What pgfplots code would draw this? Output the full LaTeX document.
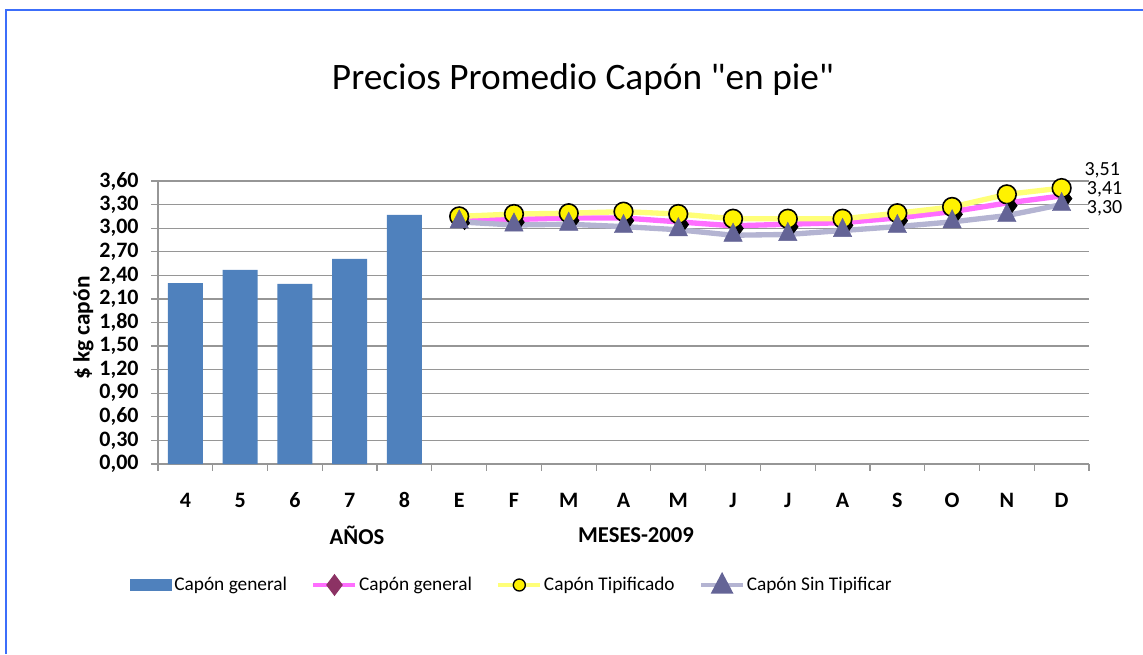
\documentclass[border=0pt]{standalone}
\usepackage{fontspec}
\setmainfont{Carlito}[Ligatures=TeXOff]
\usepackage{pgfplots}
\pgfplotsset{compat=1.18}
\definecolor{barblue}{RGB}{79,129,189}
\definecolor{gridgray}{RGB}{150,150,150}
\definecolor{lyellow}{RGB}{255,255,120}
\definecolor{lmag}{RGB}{255,110,255}
\definecolor{llav}{RGB}{180,180,210}
\definecolor{tri}{RGB}{100,100,150}
\definecolor{maroon}{RGB}{140,50,100}
\definecolor{frameblue}{RGB}{60,110,250}
\begin{document}
\begin{tikzpicture}
\begin{scope}[x=0.75pt,y=0.75pt]
\useasboundingbox (0,0) rectangle (1143,654);
\draw[frameblue, line width=1.5pt] (5.5,0) -- (5.5,644) -- (1143,644);
\node[font=\fontsize{28}{32}\selectfont] at (583,574) {Precios Promedio Capón "en pie"};
\node[font=\bfseries\fontsize{17}{20}\selectfont] at (357,119) {AÑOS};
\node[font=\bfseries\fontsize{17}{20}\selectfont] at (636,119) {MESES-2009};
\end{scope}
\begin{axis}[
  at={(118.5pt,142.5pt)}, anchor=south west, scale only axis,
  width=698.25pt, height=212.25pt,
  xmin=-0.5, xmax=16.5, ymin=0, ymax=3.6,
  clip=false,
  axis x line*=bottom, axis y line*=left,
  axis line style={gridgray, line width=1pt},
  ytick={0,0.3,0.6,0.9,1.2,1.5,1.8,2.1,2.4,2.7,3.0,3.3,3.6},
  ymajorgrids, grid style={gridgray, line width=0.9pt},
  xtick={0,1,...,16},
  xticklabels={4,5,6,7,8,E,F,M,A,M,J,J,A,S,O,N,D},
  major x tick style={draw=none},
  minor xtick={-0.5,0.5,1.5,2.5,3.5,4.5,5.5,6.5,7.5,8.5,9.5,10.5,11.5,12.5,13.5,14.5,15.5,16.5},
  tick align=outside, major tick length=5pt, minor tick length=5pt,
  tick style={gridgray, line width=0.9pt},
  /pgf/number format/fixed, /pgf/number format/fixed zerofill,
  /pgf/number format/precision=2, /pgf/number format/use comma,
  /pgf/number format/assume math mode=true,
  tick label style={font=\bfseries\fontsize{16.5}{18}\selectfont, text=black},
  xticklabel style={yshift=-13pt, text height=11pt, text depth=0pt},
  yticklabel style={xshift=-6pt},
  ylabel={\$ kg capón},
  ylabel style={font=\bfseries\fontsize{17.5}{20}\selectfont, at={(axis description cs:-0.080,0.48)}, anchor=center},
  legend style={at={(-0.030,-0.4276)}, anchor=west, draw=none, fill=none,
    legend columns=-1, font=\fontsize{14.5}{16}\selectfont,
    nodes={inner xsep=1.5pt},
    /tikz/every even column/.append style={column sep=17pt},
    inner sep=0pt},
]
\addplot[ybar, bar width=26.25pt, fill=barblue, draw=none,
  legend image code/.code={\fill[barblue] (0pt,-4.5pt) rectangle (31.5pt,4.5pt);}]
  coordinates {(0,2.30) (1,2.47) (2,2.29) (3,2.61) (4,3.17)};
\addlegendentry{Capón general}
\addplot[lmag, line width=4pt, mark=diamond*, mark size=5pt,
  mark options={fill=black, draw=black, line width=0.5pt, xshift=4pt, yshift=-2pt},
  legend image code/.code={\draw[lmag, line width=2.5pt] (0pt,0pt) -- (31.5pt,0pt);
    \fill[maroon] (15.75pt,5pt) -- (19.5pt,0pt) -- (15.75pt,-5pt) -- (12pt,0pt) -- cycle;}]
  coordinates {(5,3.10) (6,3.11) (7,3.13) (8,3.13) (9,3.08) (10,3.03) (11,3.05) (12,3.07) (13,3.13) (14,3.21) (15,3.32) (16,3.41)};
\addlegendentry{Capón general}
\addplot[lyellow, line width=4pt, mark=*, mark size=7pt,
  mark options={fill=yellow, draw=black, line width=1.2pt},
  legend image code/.code={\draw[lyellow, line width=2.5pt] (0pt,0pt) -- (31.5pt,0pt);
    \draw[black, fill=yellow, line width=1pt] (15.75pt,0pt) circle (4.5pt);}]
  coordinates {(5,3.15) (6,3.18) (7,3.19) (8,3.21) (9,3.18) (10,3.12) (11,3.12) (12,3.12) (13,3.19) (14,3.27) (15,3.43) (16,3.51)};
\addlegendentry{Capón Tipificado}
\addplot[llav, line width=4pt, mark=triangle*, mark size=8pt,
  mark options={fill=tri, draw=tri, line width=0.3pt, yscale=1.15},
  legend image code/.code={\draw[llav, line width=2.5pt] (0pt,0pt) -- (31.5pt,0pt);
    \fill[tri] (15.75pt,5.5pt) -- (21pt,-4.5pt) -- (10.5pt,-4.5pt) -- cycle;}]
  coordinates {(5,3.08) (6,3.04) (7,3.05) (8,3.02) (9,2.98) (10,2.91) (11,2.92) (12,2.97) (13,3.02) (14,3.08) (15,3.16) (16,3.30)};
\addlegendentry{Capón Sin Tipificar}
\node[anchor=west, font=\fontsize{15}{16}\selectfont, inner sep=0pt] at (axis cs:16,3.51) [xshift=17pt, yshift=13.5pt] {3,51};
\node[anchor=west, font=\fontsize{15}{16}\selectfont, inner sep=0pt] at (axis cs:16,3.41) [xshift=18.75pt, yshift=5pt] {3,41};
\node[anchor=west, font=\fontsize{15}{16}\selectfont, inner sep=0pt] at (axis cs:16,3.30) [xshift=18.75pt, yshift=-2.5pt] {3,30};
\end{axis}
\end{tikzpicture}
\end{document}
